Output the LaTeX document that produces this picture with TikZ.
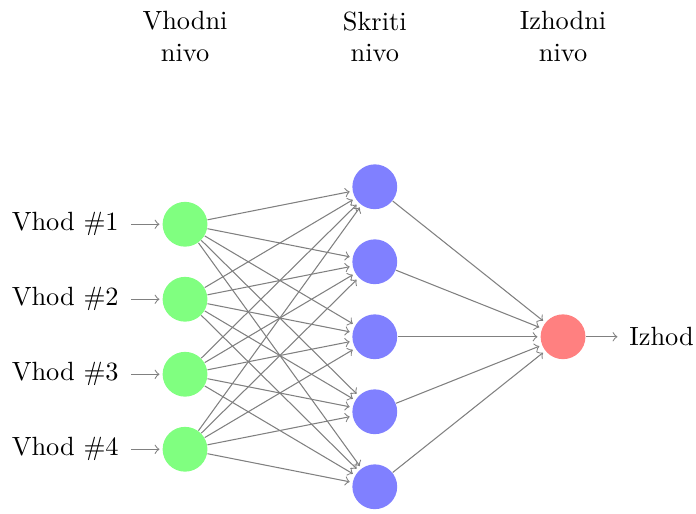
\documentclass[tikz,border=0pt]{standalone}
\begin{document}
\begin{tikzpicture}[shorten >=1pt,->,draw=black!50]
\useasboundingbox (-2.467,1.99) rectangle (6.813,-4.85);
\tikzset{
  every pin edge/.style={<-,shorten <=1pt,draw=black!50},
  neuron/.style={circle,fill=black!25,minimum size=17pt,inner sep=0pt},
  input neuron/.style={neuron,fill=green!50},
  output neuron/.style={neuron,fill=red!50},
  hidden neuron/.style={neuron,fill=blue!50},
  annot/.style={text width=4em,text centered}
}
\foreach \y in {1,...,4}
  \node[input neuron,pin=left:Vhod \#\y] (I-\y) at (0,-\y) {};
\foreach \y in {1,...,5}
  \node[hidden neuron] (H-\y) at (2.53,-\y+0.5) {};
\node[output neuron,pin={[pin edge={->,shorten <=0pt,shorten >=1pt}]right:Izhod}] (O) at (5.04,-2.5) {};
\foreach \s in {1,...,4}
  \foreach \d in {1,...,5}
    \path (I-\s) edge (H-\d);
\foreach \s in {1,...,5}
  \path (H-\s) edge (O);
\node[annot] (hl) at (2.53,1.5) {Skriti nivo};
\node[annot] (il) at (0,1.5) {Vhodni nivo};
\node[annot] (ol) at (5.04,1.5) {Izhodni nivo};
\end{tikzpicture}
\end{document}
